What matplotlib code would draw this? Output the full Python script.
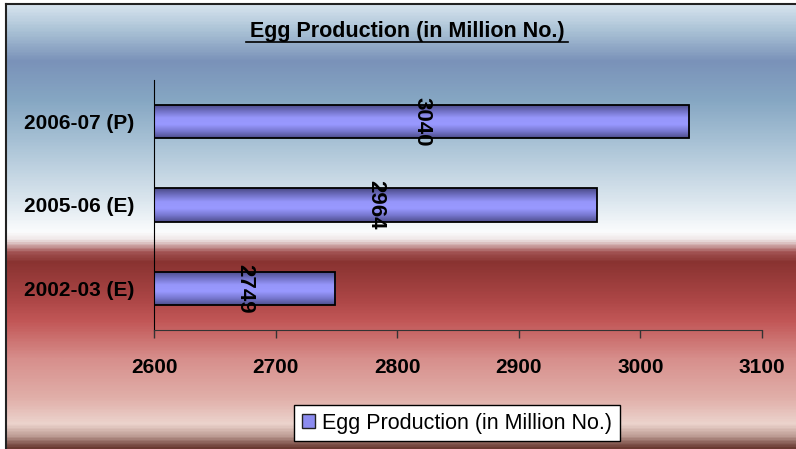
import numpy as np
import matplotlib
import matplotlib.pyplot as plt
from matplotlib.colors import LinearSegmentedColormap

categories = ["2002-03 (E)", "2005-06 (E)", "2006-07 (P)"]
values = [2749, 2964, 3040]
series_name = "Egg Production (in Million No.)"
x_ticks = [2600, 2700, 2800, 2900, 3000, 3100]

NARROW = ["Liberation Sans Narrow", "Liberation Sans", "DejaVu Sans"]
ARIAL = ["Liberation Sans", "DejaVu Sans"]

W, H = 796, 449


def main():
    fig = plt.figure(figsize=(W / 100, H / 100), dpi=100)
    fig.patch.set_facecolor("white")

    # background gradient panel (pixel rows -> colours)
    stops = [
        (4, "#d6e3ee"), (30, "#a9c1d5"), (60, "#7a92b9"), (100, "#86a7c3"),
        (150, "#afc7d9"), (200, "#dbe6ee"), (232, "#fbfcfd"), (240, "#efe6e6"),
        (252, "#a45656"), (262, "#893331"), (300, "#ac4646"), (322, "#c25757"),
        (360, "#d78f8c"), (400, "#e1b0aa"), (425, "#ecd4cd"), (436, "#c4a49c"),
        (449, "#6a3a32"),
    ]
    y0, y1 = stops[0][0], stops[-1][0]
    cmap = LinearSegmentedColormap.from_list(
        "bg", [((y - y0) / (y1 - y0), c) for y, c in stops])
    bg = fig.add_axes([6 / W, 0, 1 - 6 / W, 1 - 4 / H], zorder=-2)
    bg.imshow(np.linspace(0, 1, 400).reshape(-1, 1), cmap=cmap,
              aspect="auto", extent=[0, 1, 0, 1], origin="upper")
    bg.set_xlim(0, 1)
    bg.set_ylim(0, 1)
    bg.set_xticks([])
    bg.set_yticks([])
    for side in ["right", "bottom"]:
        bg.spines[side].set_visible(False)
    for side in ["top", "left"]:
        bg.spines[side].set_color("#222222")
        bg.spines[side].set_linewidth(1.5)

    ax = fig.add_axes([154 / W, 1 - 330 / H, (762 - 154) / W, (330 - 80) / H])
    ax.patch.set_alpha(0)

    ypos = np.arange(len(categories))
    bars = ax.barh(ypos, [v - x_ticks[0] for v in values], left=x_ticks[0],
                   height=0.4, facecolor="none", edgecolor="black",
                   linewidth=1.3, zorder=3, label=series_name)

    bar_cmap = LinearSegmentedColormap.from_list(
        "bar", ["#4e4e8c", "#7878d0", "#9999ff", "#9696fa", "#7070c4", "#4a4a86"])
    grad = np.linspace(0, 1, 100).reshape(-1, 1)
    for patch in bars:
        x, y = patch.get_x(), patch.get_y()
        w, h = patch.get_width(), patch.get_height()
        im = ax.imshow(grad, cmap=bar_cmap, aspect="auto",
                       extent=[x, x + w, y, y + h], origin="lower", zorder=2)
        im.set_clip_path(patch)

    for yp, v in zip(ypos, values):
        ax.text((x_ticks[0] + v) / 2, yp, str(v), rotation=-90,
                ha="center", va="center", fontsize=16, fontweight="bold",
                family=ARIAL, zorder=4)

    ax.set_xlim(x_ticks[0], x_ticks[-1])
    ax.set_ylim(-0.5, 2.5)
    ax.set_xticks(x_ticks)
    ax.set_xticklabels([str(t) for t in x_ticks], fontsize=15,
                       fontweight="bold", family=NARROW)
    ax.set_yticks(ypos)
    ax.set_yticklabels(categories, fontsize=15, fontweight="bold",
                       family=NARROW)
    ax.tick_params(axis="x", length=6, width=1, color="#333333", pad=14)
    ax.tick_params(axis="y", length=0, pad=14)
    ax.spines["top"].set_visible(False)
    ax.spines["right"].set_visible(False)
    ax.spines["left"].set_color("black")
    ax.spines["bottom"].set_color("#333333")

    fig.text(407 / W, 1 - 31 / H, series_name, ha="center", va="center",
             fontsize=15.5, fontweight="bold", family=NARROW)
    fig.add_artist(plt.Line2D([246 / W, 568 / W], [1 - 42 / H, 1 - 42 / H],
                              color="black", linewidth=1.2))

    handle = matplotlib.patches.Patch(facecolor="#8c8cf0", edgecolor="#222222")
    leg = fig.legend([handle], [series_name], loc="center",
                     bbox_to_anchor=(457 / W, 1 - 423 / H),
                     prop={"family": ARIAL, "size": 15.5},
                     frameon=True, fancybox=False, handlelength=0.6,
                     handleheight=0.6, handletextpad=0.35, borderpad=0.35,
                     borderaxespad=0)
    leg.get_frame().set_edgecolor("black")
    leg.get_frame().set_facecolor("white")
    leg.get_frame().set_alpha(1)

    fig.savefig("out.png", dpi=100)


if __name__ == "__main__":
    main()
